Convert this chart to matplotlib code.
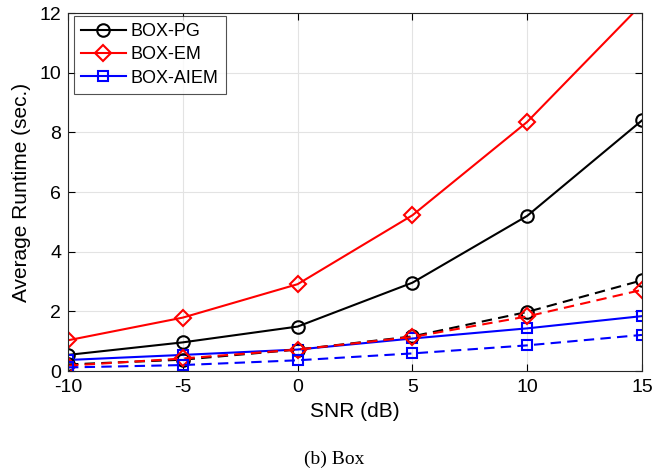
import numpy as np
import matplotlib
matplotlib.use("Agg")
import matplotlib.pyplot as plt

plt.rcParams["font.family"] = ["Liberation Sans", "DejaVu Sans"]

snr = [-10, -5, 0, 5, 10, 15]

# solid lines
pg = [0.54, 0.96, 1.49, 2.96, 5.2, 8.4]
em = [1.03, 1.79, 2.91, 5.22, 8.35, 12.3]
aiem = [0.37, 0.54, 0.72, 1.09, 1.43, 1.84]

# dashed lines
pg_d = [0.22, 0.38, 0.72, 1.16, 1.98, 3.04]
em_d = [0.18, 0.42, 0.72, 1.14, 1.83, 2.72]
aiem_d = [0.12, 0.2, 0.36, 0.59, 0.86, 1.21]

fig = plt.figure(figsize=(6.69, 4.70), dpi=100)
ax = fig.add_axes([0.1016, 0.2106, 0.858, 0.7617])

ax.plot(snr, pg, "k-", marker="o", ms=9, mfc="none", mew=1.5, lw=1.5, label="BOX-PG")
ax.plot(snr, em, "r-", marker="D", ms=8, mfc="none", mew=1.5, lw=1.5, label="BOX-EM")
ax.plot(snr, aiem, "b-", marker="s", ms=7, mfc="none", mew=1.5, lw=1.5, label="BOX-AIEM")
ax.plot(snr, pg_d, "k--", marker="o", ms=9, mfc="none", mew=1.5, lw=1.5, dashes=(5, 3))
ax.plot(snr, em_d, "r--", marker="D", ms=8, mfc="none", mew=1.5, lw=1.5, dashes=(5, 3))
ax.plot(snr, aiem_d, "b--", marker="s", ms=7, mfc="none", mew=1.5, lw=1.5, dashes=(5, 3))

ax.set_xlim(-10, 15)
ax.set_ylim(0, 12)
ax.set_xticks(snr)
ax.set_xticklabels(["-10", "-5", "0", "5", "10", "15"])
ax.set_yticks([0, 2, 4, 6, 8, 10, 12])
ax.tick_params(direction="in", labelsize=14, length=5, top=True, right=True)
ax.tick_params(axis="x", pad=6)
ax.tick_params(axis="y", pad=5)
ax.grid(True, color="#e3e3e3", lw=0.8)
ax.set_axisbelow(True)
for s in ax.spines.values():
    s.set_color("#262626")
    s.set_linewidth(0.8)

ax.set_xlabel("SNR (dB)", fontsize=15, labelpad=4)
ax.set_ylabel("Average Runtime (sec.)", fontsize=15, labelpad=6)

leg = ax.legend(loc="upper left", fontsize=13, fancybox=False, edgecolor="#262626",
                handlelength=2.5, handletextpad=0.25, borderpad=0.4, labelspacing=0.35,
                borderaxespad=0.15, bbox_to_anchor=(0.005, 1.0))
leg.get_frame().set_linewidth(0.8)

fig.text(0.5, 0.005, "(b) Box", ha="center", va="bottom", fontsize=14,
         family=["Liberation Serif", "DejaVu Serif"])

fig.savefig("out.png", dpi=100)
